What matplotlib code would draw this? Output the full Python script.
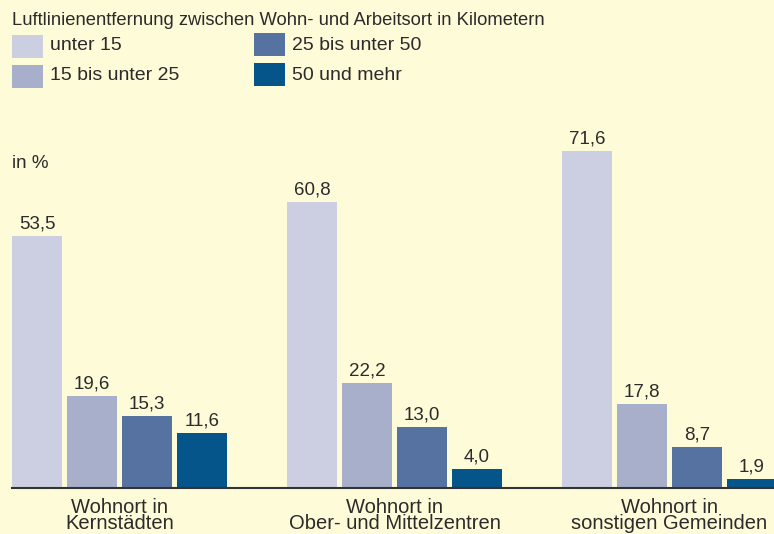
import matplotlib
matplotlib.use("Agg")
import matplotlib.pyplot as plt
from matplotlib.patches import Rectangle
import numpy as np

plt.rcParams['font.family'] = ['Liberation Sans', 'DejaVu Sans']

groups = ['Wohnort in\nKernstädten', 'Wohnort in\nOber- und Mittelzentren', 'Wohnort in\nsonstigen Gemeinden']
series = ['unter 15', '15 bis unter 25', '25 bis unter 50', '50 und mehr']
unter15 = [53.5, 60.8, 71.6]
bis25 = [19.6, 22.2, 17.8]
bis50 = [15.3, 13.0, 8.7]
mehr50 = [11.6, 4.0, 1.9]
values = [unter15, bis25, bis50, mehr50]
colors = ['#cccfe1', '#a8afcb', '#5672a0', '#05548a']
bg = '#fefbd8'
txt = '#2b2b2b'

W, H = 774, 534
fig = plt.figure(figsize=(W / 100, H / 100), dpi=100, facecolor=bg)
# axes from x=12px to right edge, baseline at y=488px
ax = fig.add_axes([12 / W, (H - 488) / H, (W - 12) / W, (488 - 100) / H])
ax.set_facecolor(bg)

x = np.arange(len(groups)) * 5
width = 50 / 55
for j, (vals, c) in enumerate(zip(values, colors)):
    bars = ax.bar(x + j, vals, width=width, color=c, label=series[j])
    for b, v in zip(bars, vals):
        ax.annotate(f'{v:.1f}'.replace('.', ','), (b.get_x() + b.get_width() / 2, v),
                    xytext=(0, 2.5), textcoords='offset points', ha='center', va='bottom',
                    fontsize=13.5, color=txt)

ax.set_xlim(-25 / 55, 13.4)
ax.set_ylim(0, 388 / 4.71)
for s in ['top', 'right', 'left']:
    ax.spines[s].set_visible(False)
ax.spines['bottom'].set_color('#333333')
ax.spines['bottom'].set_linewidth(1.5)
ax.set_yticks([])
ax.set_xticks(x + 1.5)
ax.set_xticklabels(groups, fontsize=14.5, color=txt, linespacing=0.85)
ax.tick_params(axis='x', length=0, pad=7)

# legend drawn by hand
fig.text(12 / W, 1 - 25 / H, 'Luftlinienentfernung zwischen Wohn- und Arbeitsort in Kilometern',
         fontsize=13.2, color=txt, va='baseline')
patches = [(12, 35), (12, 65), (254, 33), (254, 63)]
text_y = [46, 76, 46, 76]
for (px, py), ty, c, lab in zip(patches, text_y, colors, series):
    fig.add_artist(Rectangle((px / W, 1 - (py + 22.5) / H), 31 / W, 22.5 / H,
                             transform=fig.transFigure, color=c, lw=0))
    fig.text((px + 38) / W, 1 - ty / H, lab, fontsize=14, color=txt, va='center')

fig.text(12 / W, 1 - 163 / H, 'in %', fontsize=13.5, color=txt, va='center')

fig.savefig('out.png', dpi=100, facecolor=bg)
